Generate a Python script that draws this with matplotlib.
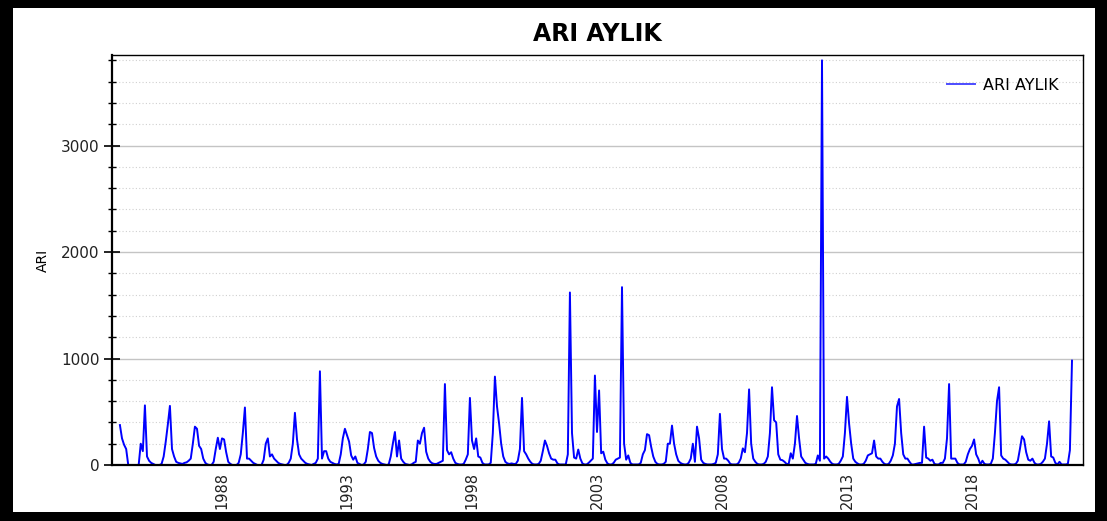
import numpy as np
import matplotlib
matplotlib.use("Agg")
import matplotlib.pyplot as plt
from matplotlib.patches import Rectangle
from matplotlib.ticker import MultipleLocator

plt.rcParams['font.family'] = ['DejaVu Sans']

# Monthly ARI series, Dec 1983 .. Jan 2022
start_year, start_month = 1983, 12
ari = [375,
    250, 190, 150, 0, 0, 0, 0, 0, 0, 200, 130, 560,          # 1984
    80, 40, 20, 10, 0, 0, 0, 10, 80, 220, 380, 555,          # 1985
    150, 80, 30, 20, 15, 10, 20, 25, 40, 60, 200, 360,       # 1986
    340, 180, 150, 60, 20, 5, 0, 0, 30, 150, 256, 150,       # 1987
    250, 240, 120, 30, 10, 0, 0, 0, 20, 100, 300, 540,       # 1988
    60, 60, 40, 20, 10, 0, 0, 0, 50, 200, 250, 80,           # 1989
    100, 60, 40, 20, 10, 5, 0, 0, 20, 60, 200, 490,          # 1990
    240, 100, 60, 40, 20, 10, 5, 0, 10, 20, 60, 880,         # 1991
    60, 130, 130, 60, 30, 20, 10, 5, 10, 100, 250, 340,      # 1992
    280, 220, 90, 50, 80, 20, 10, 0, 5, 30, 150, 310,        # 1993
    300, 160, 80, 40, 20, 10, 5, 0, 5, 80, 200, 310,         # 1994
    80, 230, 60, 30, 10, 5, 0, 5, 20, 30, 230, 200,          # 1995
    300, 350, 125, 60, 30, 15, 10, 10, 20, 30, 40, 760,      # 1996
    140, 100, 120, 60, 20, 10, 5, 5, 10, 50, 100, 630,       # 1997
    230, 150, 250, 80, 70, 20, 5, 5, 5, 20, 300, 830,        # 1998
    550, 390, 200, 80, 30, 15, 10, 15, 10, 10, 40, 150,      # 1999
    630, 130, 100, 60, 30, 10, 5, 5, 10, 40, 130, 230,       # 2000
    180, 110, 60, 50, 50, 15, 5, 5, 5, 5, 100, 1620,         # 2001
    300, 70, 60, 145, 60, 15, 5, 5, 20, 40, 60, 840,         # 2002
    310, 700, 110, 125, 50, 15, 5, 5, 20, 50, 60, 70,        # 2003
    1670, 200, 50, 90, 20, 5, 5, 5, 5, 20, 100, 140,         # 2004
    290, 280, 170, 80, 30, 10, 5, 5, 10, 30, 200, 200,       # 2005
    370, 200, 100, 40, 20, 10, 5, 5, 20, 60, 200, 30,        # 2006
    360, 250, 50, 20, 10, 5, 5, 5, 10, 20, 100, 480,         # 2007
    150, 60, 60, 40, 10, 5, 5, 5, 20, 60, 156, 120,          # 2008
    300, 710, 200, 60, 30, 10, 5, 5, 10, 30, 80, 300,        # 2009
    730, 420, 400, 100, 50, 45, 30, 10, 10, 110, 60, 200,    # 2010
    460, 250, 80, 50, 20, 10, 5, 5, 5, 10, 90, 40,           # 2011
    3800, 60, 80, 60, 30, 10, 5, 5, 10, 40, 80, 300,         # 2012
    640, 390, 200, 60, 30, 15, 5, 5, 10, 40, 90, 100,        # 2013
    110, 230, 80, 60, 60, 30, 10, 5, 10, 40, 90, 200,        # 2014
    550, 620, 300, 100, 60, 60, 30, 5, 5, 10, 15, 20,        # 2015
    20, 360, 70, 60, 40, 50, 10, 5, 5, 20, 20, 60,           # 2016
    250, 760, 60, 60, 60, 20, 5, 5, 5, 30, 100, 150,         # 2017
    180, 240, 100, 60, 5, 40, 10, 5, 5, 10, 60, 300,         # 2018
    600, 730, 90, 60, 50, 30, 10, 5, 5, 10, 40, 150,         # 2019
    270, 240, 120, 50, 40, 60, 20, 5, 5, 10, 30, 60,         # 2020
    200, 410, 80, 70, 20, 5, 30, 5, 5, 5, 10, 140,           # 2021
    980]                                                     # 2022

tick_years = [1988, 1993, 1998, 2003, 2008, 2013, 2018]

# decimal-year time axis
idx = np.arange(len(ari))
t = start_year + (start_month - 1) / 12 + idx / 12

fig = plt.figure(figsize=(11.07, 5.21), dpi=100)
fig.patch.set_facecolor('black')
# white card inside the black frame
card = Rectangle((13 / 1107, 9 / 521), (1095 - 13) / 1107, (512 - 8) / 521,
                 transform=fig.transFigure, facecolor='white',
                 edgecolor='none', zorder=-10)
fig.patches.append(card)

ax = fig.add_axes([112 / 1107, 1 - 465 / 521, (1083 - 112) / 1107, (465 - 55) / 521])
ax.set_zorder(5)
ax.plot(t, ari, color='#0000ff', lw=1.4, label='ARI AYLIK')

ax.set_xlim(1983.6, 2022.44)
ax.set_ylim(0, 3850)

ax.set_xticks(tick_years)
ax.set_xticklabels([str(y) for y in tick_years], rotation=90, fontsize=10.5, color='#222222')
ax.tick_params(axis='x', length=0, pad=5)

ax.yaxis.set_major_locator(MultipleLocator(1000))
ax.yaxis.set_minor_locator(MultipleLocator(200))
ax.tick_params(axis='y', which='major', direction='inout', length=12, width=1.2,
               labelsize=11, labelcolor='#222222', pad=3)
ax.tick_params(axis='y', which='minor', direction='inout', length=6, width=1.0)

ax.grid(axis='y', which='major', color='#c4c4c4', lw=1.0)
ax.grid(axis='y', which='minor', color='#d0d0d0', lw=0.8, ls=(0, (1, 2)))
ax.set_axisbelow(True)

for side in ['left', 'bottom']:
    ax.spines[side].set_linewidth(1.6)
for side in ['top', 'right']:
    ax.spines[side].set_linewidth(1.0)

ax.set_ylabel('ARI', fontsize=10, labelpad=8)
ax.set_title('ARI AYLIK', fontsize=17, fontweight='bold', pad=10)

leg = ax.legend(loc='upper right', frameon=False, fontsize=11.5,
                handlelength=1.8, handletextpad=0.5, bbox_to_anchor=(0.99, 0.98))
for h in leg.legend_handles:
    h.set_alpha(0.7)

fig.savefig('out.png', dpi=100, facecolor=fig.get_facecolor())
